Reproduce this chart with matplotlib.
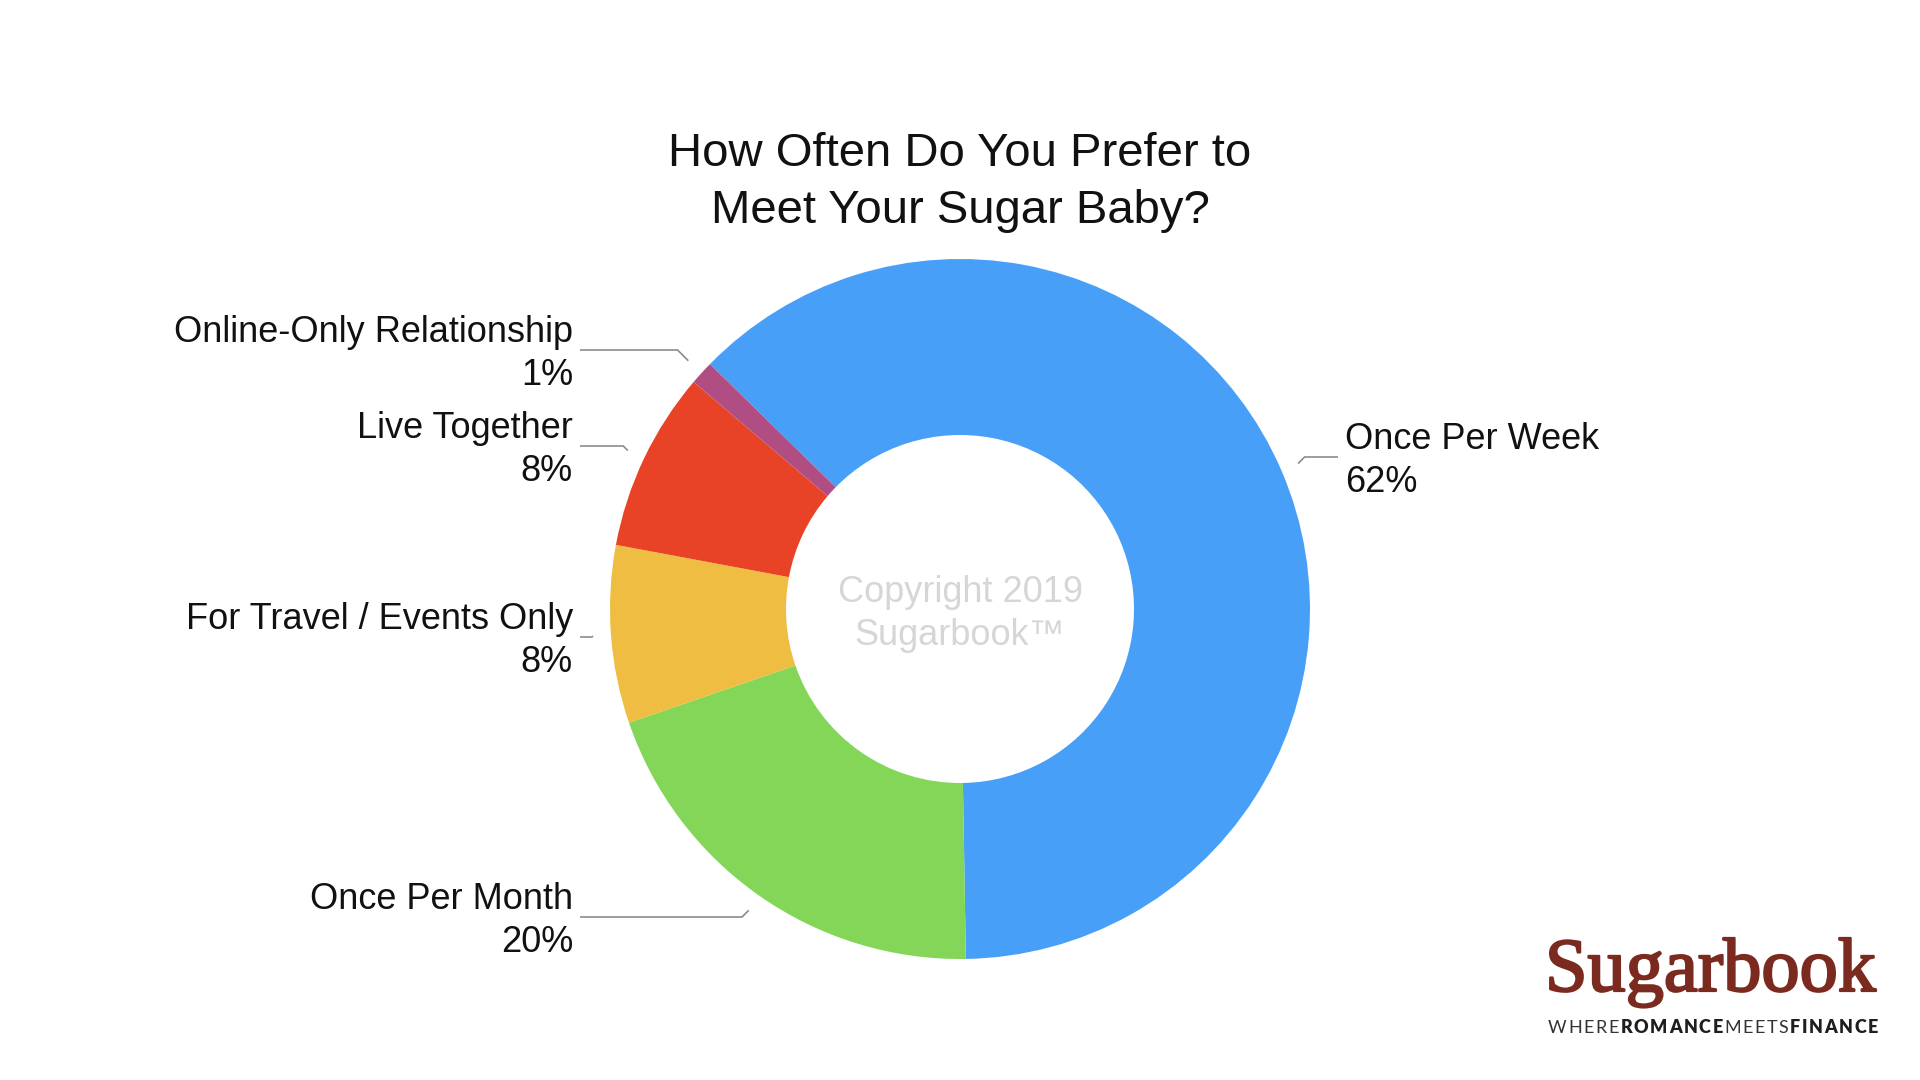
import numpy as np
import matplotlib
matplotlib.use("Agg")
import matplotlib.pyplot as plt
import matplotlib.patheffects as pe

# ---------------- data ----------------
categories = ["Once Per Week", "Once Per Month", "For Travel / Events Only",
              "Live Together", "Online-Only Relationship"]
values = [62.4, 20.0, 8.2, 8.3, 1.1]
pct_labels = ["62%", "20%", "8%", "8%", "1%"]
colors = ["#489FF7", "#84D658", "#EEBD42", "#E84326", "#B04E84"]

title_lines = ["How Often Do You Prefer to", "Meet Your Sugar Baby?"]
watermark_lines = ["Copyright 2019", "Sugarbook\u2122"]
logo_word = "Sugarbook"
tagline_parts = [("WHERE", "normal"), ("ROMANCE", "heavy"), ("MEETS", "normal"), ("FINANCE", "heavy")]

# ---------------- layout ----------------
W, H = 1920, 1080
FONT = ["Liberation Sans", "DejaVu Sans"]
fig = plt.figure(figsize=(19.2, 10.8), dpi=100)
fig.patch.set_facecolor("white")
ax = fig.add_axes([0, 0, 1, 1])

def Y(y):  # convert top-down pixel y to data y
    return H - y

cx, cy = 960, Y(609)
R = 350
ring = 176
wedges, _ = ax.pie(values, colors=colors, startangle=135.6, counterclock=False,
                   radius=R, center=(cx, cy),
                   wedgeprops=dict(width=ring, linewidth=0))
ax.set_xlim(0, W)
ax.set_ylim(0, H)
ax.set_aspect("equal")
ax.axis("off")

# title
for i, line in enumerate(title_lines):
    ax.text(960, Y(166 + 57 * i), line, ha="center", va="baseline",
            fontsize=34, family=FONT, color="#111111")

# watermark
for i, line in enumerate(watermark_lines):
    ax.text(960, Y(602 + 43 * i), line, ha="center", va="baseline",
            fontsize=26, family=FONT, color="#D6D6D6")

# labels with leader lines
levels = [457, 917, 637, 446, 350]      # y of the horizontal leader (top-down px)
sides = ["right", "left", "left", "left", "left"]
for w, cat, pct, lev, side in zip(wedges, categories, pct_labels, levels, sides):
    mid = np.deg2rad((w.theta1 + w.theta2) / 2)
    tx = cx + (R + 18) * np.cos(mid)
    ty = cy + (R + 18) * np.sin(mid)
    ly = Y(lev)
    dy = abs(ty - ly)
    if side == "left":
        kx = tx - dy
        ex = 580
        txt_x, ha = 573, "right"
    else:
        kx = tx + dy
        ex = 1338
        txt_x, ha = 1345, "left"
    ax.plot([tx, kx, ex], [ty, ly, ly], color="#8C8C8C", lw=1.2,
            solid_capstyle="butt", solid_joinstyle="miter")
    ax.text(txt_x, ly + 8, cat, ha=ha, va="baseline", fontsize=26, family=FONT, color="#111111")
    ax.text(txt_x, ly - 35, pct, ha=ha, va="baseline", fontsize=26, family=FONT, color="#111111")

# logo
ax.text(1545, Y(991), logo_word, ha="left", va="baseline", fontsize=55,
        family=["Liberation Serif", "DejaVu Serif"], color="#7A2A1E",
        path_effects=[pe.withStroke(linewidth=1.6, foreground="#7A2A1E")])

renderer = fig.canvas.get_renderer()
chars = []
for word, wt in tagline_parts:
    for ch in word:
        chars.append((ch, wt))
texts = []
widths = []
for ch, wt in chars:
    col = "#333333" if wt == "normal" else "#1E1E1E"
    t = ax.text(0, Y(1033), ch, ha="left", va="baseline", fontsize=13,
                family=["Lato", "DejaVu Sans"], fontweight=wt, color=col)
    bb = t.get_window_extent(renderer)
    texts.append(t)
    widths.append(bb.width)
x0, x1 = 1548, 1878
track = (x1 - x0 - sum(widths)) / (len(chars) - 1)
x = x0
for t, wdt in zip(texts, widths):
    t.set_x(x)
    x += wdt + track

fig.savefig("out.png", dpi=100, facecolor="white")
